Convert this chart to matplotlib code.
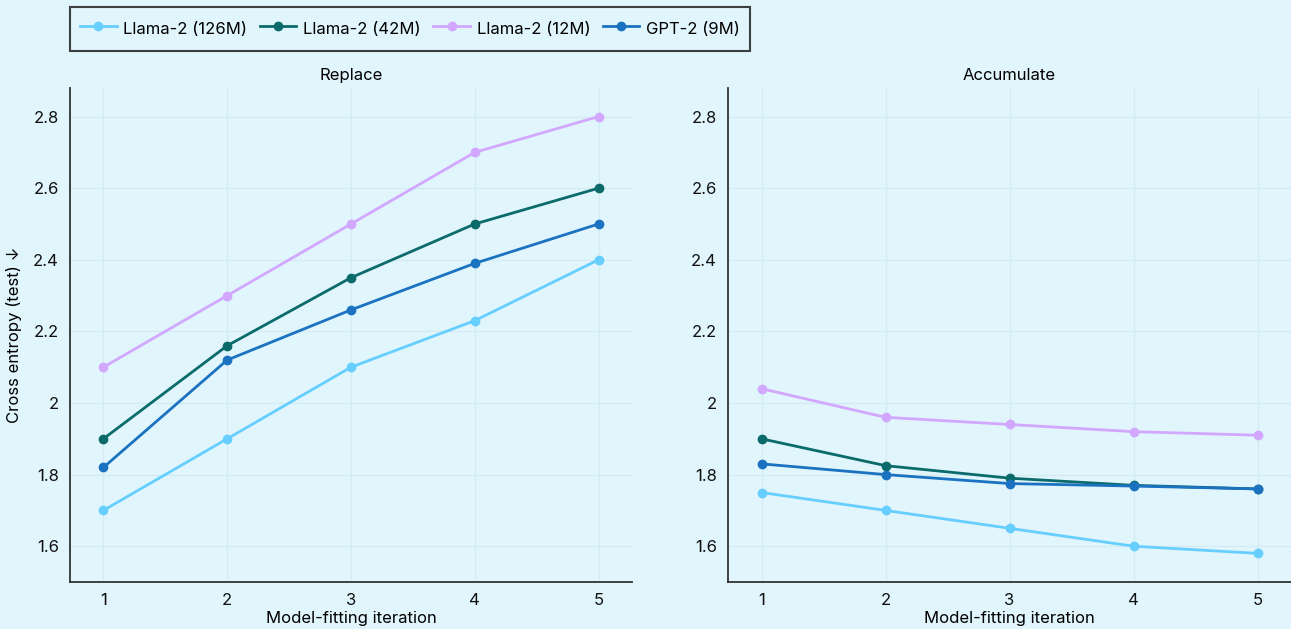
import matplotlib.pyplot as plt
import numpy as np

plt.rcParams['font.family'] = ['Inter', 'DejaVu Sans']

iterations = [1, 2, 3, 4, 5]
names = ['Llama-2 (126M)', 'Llama-2 (42M)', 'Llama-2 (12M)', 'GPT-2 (9M)']
colors = ['#66CFFF', '#0B6A6A', '#D2A8FF', '#1B72C0']

replace_126m = [1.70, 1.90, 2.10, 2.23, 2.40]
replace_42m = [1.90, 2.16, 2.35, 2.50, 2.60]
replace_12m = [2.10, 2.30, 2.50, 2.70, 2.80]
replace_gpt2 = [1.82, 2.12, 2.26, 2.39, 2.50]

accum_126m = [1.75, 1.70, 1.65, 1.60, 1.58]
accum_42m = [1.90, 1.825, 1.79, 1.77, 1.76]
accum_12m = [2.04, 1.96, 1.94, 1.92, 1.91]
accum_gpt2 = [1.83, 1.80, 1.775, 1.768, 1.76]

yticks = [1.6, 1.8, 2.0, 2.2, 2.4, 2.6, 2.8]
ytick_labels = ['1.6', '1.8', '2', '2.2', '2.4', '2.6', '2.8']

bg = '#E1F5FC'
fig = plt.figure(figsize=(12.91, 6.29), dpi=100, facecolor=bg)
ax1 = fig.add_axes([0.0542, 0.0747, 0.4353, 0.7855])
ax2 = fig.add_axes([0.564, 0.0747, 0.436, 0.7855])

panels = [
    (ax1, 'Replace', [replace_126m, replace_42m, replace_12m, replace_gpt2]),
    (ax2, 'Accumulate', [accum_126m, accum_42m, accum_12m, accum_gpt2]),
]

for ax, title, series in panels:
    ax.set_facecolor(bg)
    for vals, name, c in zip(series, names, colors):
        ax.plot(iterations, vals, color=c, lw=2, marker='o', ms=6, label=name)
    ax.set_xlim(0.73, 5.27)
    ax.set_ylim(1.5, 2.88)
    ax.set_xticks(iterations)
    ax.set_yticks(yticks)
    ax.set_yticklabels(ytick_labels)
    ax.grid(True, color='#D3EBF2', lw=1)
    ax.set_axisbelow(True)
    for s in ['top', 'right']:
        ax.spines[s].set_visible(False)
    for s in ['left', 'bottom']:
        ax.spines[s].set_color('#333333')
        ax.spines[s].set_linewidth(1.3)
    ax.tick_params(length=0, labelsize=12, pad=8, colors='#111111')
    ax.set_title(title, fontsize=12, pad=6)
    ax.set_xlabel('Model-fitting iteration', fontsize=12, labelpad=2)

ax1.set_ylabel('Cross entropy (test) \u2193', fontsize=12, labelpad=8)

handles, labels = ax1.get_legend_handles_labels()
leg = fig.legend(handles, labels, loc='upper left', bbox_to_anchor=(0.0542, 0.989),
                 borderaxespad=0, ncol=4, fontsize=12, frameon=True, fancybox=False,
                 edgecolor='#111111', facecolor=bg, handlelength=2.2, handleheight=1.8,
                 columnspacing=0.75, handletextpad=0.4, borderpad=0.6)
leg.get_frame().set_linewidth(1.5)

fig.savefig('out.png', dpi=100, facecolor=bg)
